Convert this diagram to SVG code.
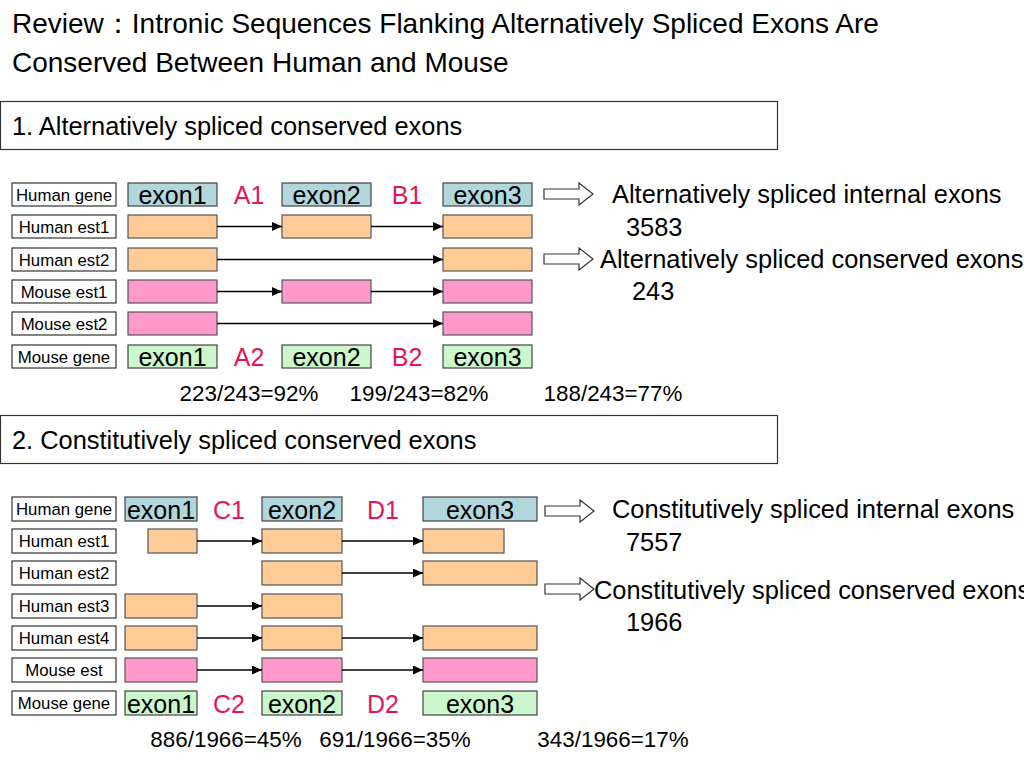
<svg xmlns="http://www.w3.org/2000/svg" width="1024" height="768" viewBox="0 0 1024 768">
<defs>
<style>
text{font-family:"Liberation Sans",Arial,sans-serif;fill:#000}
.title{font-size:28px}
.hdr{font-size:25.4px}
.lbl{font-size:16.8px}
.ex{font-size:25px}
.ab{font-size:25px;fill:#e6145a}
.pct{font-size:22.4px}
.note{font-size:25.4px}
.lb{fill:#fff;stroke:#333;stroke-width:1.2}
.hb{fill:#fff;stroke:#333;stroke-width:1.2}
.blue{fill:#b1d7dc;stroke:#444;stroke-width:1.2}
.org{fill:#ffcb96;stroke:#555;stroke-width:1.2}
.pink{fill:#ff99cc;stroke:#555;stroke-width:1.2}
.grn{fill:#ccf7cc;stroke:#444;stroke-width:1.2}
.con{stroke:#000;stroke-width:1.3;fill:none;marker-end:url(#ah)}
.hol{fill:#fff;stroke:#333;stroke-width:1.2}
</style>
<marker id="ah" markerUnits="userSpaceOnUse" markerWidth="10" markerHeight="9" refX="10" refY="4.5" orient="auto">
<path d="M0,0 L10,4.5 L0,9 z" fill="#000"/>
</marker>
</defs>
<rect width="1024" height="768" fill="#fff"/>
<g id="title">
<text class="title" x="12" y="33">Review：Intronic Sequences Flanking Alternatively Spliced Exons Are</text>
<text class="title" x="12" y="72">Conserved Between Human and Mouse</text>
</g>
<g id="header1">
<rect class="hb" x="0.5" y="101.5" width="777" height="48"/>
<text class="hdr" x="12" y="135">1. Alternatively spliced conserved exons</text>
</g>
<g id="header2">
<rect class="hb" x="0.5" y="415.5" width="777" height="48"/>
<text class="hdr" x="12" y="449">2. Constitutively spliced conserved exons</text>
</g>
<g id="s1-labels">
<rect class="lb" x="12" y="183" width="104" height="23"/><text class="lbl" x="64" y="200.5" text-anchor="middle">Human gene</text>
<rect class="lb" x="12" y="215" width="104" height="23"/><text class="lbl" x="64" y="232.5" text-anchor="middle">Human est1</text>
<rect class="lb" x="12" y="248" width="104" height="23"/><text class="lbl" x="64" y="265.5" text-anchor="middle">Human est2</text>
<rect class="lb" x="12" y="280" width="104" height="23"/><text class="lbl" x="64" y="297.5" text-anchor="middle">Mouse est1</text>
<rect class="lb" x="12" y="312" width="104" height="23"/><text class="lbl" x="64" y="329.5" text-anchor="middle">Mouse est2</text>
<rect class="lb" x="12" y="345" width="104" height="23"/><text class="lbl" x="64" y="362.5" text-anchor="middle">Mouse gene</text>
</g>
<g id="s1-human-gene">
<rect class="blue" x="128" y="183" width="89" height="23"/><text class="ex" x="172.5" y="203.5" text-anchor="middle">exon1</text>
<text class="ab" x="249" y="203.5" text-anchor="middle">A1</text>
<rect class="blue" x="282" y="183" width="89" height="23"/><text class="ex" x="326.5" y="203.5" text-anchor="middle">exon2</text>
<text class="ab" x="407" y="203.5" text-anchor="middle">B1</text>
<rect class="blue" x="443" y="183" width="89" height="23"/><text class="ex" x="487.5" y="203.5" text-anchor="middle">exon3</text>
</g>
<g id="s1-human-est1">
<rect class="org" x="128" y="215" width="89" height="23"/>
<rect class="org" x="282" y="215" width="89" height="23"/>
<rect class="org" x="443" y="215" width="89" height="23"/>
</g>
<g id="s1-human-est2">
<rect class="org" x="128" y="248" width="89" height="23"/>
<rect class="org" x="443" y="248" width="89" height="23"/>
</g>
<g id="s1-mouse-est1">
<rect class="pink" x="128" y="280" width="89" height="23"/>
<rect class="pink" x="282" y="280" width="89" height="23"/>
<rect class="pink" x="443" y="280" width="89" height="23"/>
</g>
<g id="s1-mouse-est2">
<rect class="pink" x="128" y="312" width="89" height="23"/>
<rect class="pink" x="443" y="312" width="89" height="23"/>
</g>
<g id="s1-mouse-gene">
<rect class="grn" x="128" y="345" width="89" height="23"/><text class="ex" x="172.5" y="365.5" text-anchor="middle">exon1</text>
<text class="ab" x="249" y="365.5" text-anchor="middle">A2</text>
<rect class="grn" x="282" y="345" width="89" height="23"/><text class="ex" x="326.5" y="365.5" text-anchor="middle">exon2</text>
<text class="ab" x="407" y="365.5" text-anchor="middle">B2</text>
<rect class="grn" x="443" y="345" width="89" height="23"/><text class="ex" x="487.5" y="365.5" text-anchor="middle">exon3</text>
</g>
<g id="s1-pct">
<text class="pct" x="249" y="401" text-anchor="middle">223/243=92%</text>
<text class="pct" x="419" y="401" text-anchor="middle">199/243=82%</text>
<text class="pct" x="613" y="401" text-anchor="middle">188/243=77%</text>
</g>
<g id="s1-notes">
<path class="hol" d="M544,189 H579 V183 L593,194 L579,205 V199 H544 Z"/>
<text class="note" x="612" y="203">Alternatively spliced internal exons</text>
<text class="note" x="626" y="236">3583</text>
<path class="hol" d="M544,254 H579 V248 L593,259 L579,270 V264 H544 Z"/>
<text class="note" x="600" y="268">Alternatively spliced conserved exons</text>
<text class="note" x="632" y="300">243</text>
</g>
<g id="s2-labels">
<rect class="lb" x="12" y="497" width="104" height="24"/><text class="lbl" x="64" y="515" text-anchor="middle">Human gene</text>
<rect class="lb" x="12" y="529" width="104" height="24"/><text class="lbl" x="64" y="547" text-anchor="middle">Human est1</text>
<rect class="lb" x="12" y="561" width="104" height="24"/><text class="lbl" x="64" y="579" text-anchor="middle">Human est2</text>
<rect class="lb" x="12" y="594" width="104" height="24"/><text class="lbl" x="64" y="612" text-anchor="middle">Human est3</text>
<rect class="lb" x="12" y="626" width="104" height="24"/><text class="lbl" x="64" y="644" text-anchor="middle">Human est4</text>
<rect class="lb" x="12" y="658" width="104" height="24"/><text class="lbl" x="64" y="676" text-anchor="middle">Mouse est</text>
<rect class="lb" x="12" y="691" width="104" height="24"/><text class="lbl" x="64" y="709" text-anchor="middle">Mouse gene</text>
</g>
<g id="s2-human-gene">
<rect class="blue" x="125" y="497" width="72" height="24"/><text class="ex" x="161" y="518.5" text-anchor="middle">exon1</text>
<text class="ab" x="229" y="518.5" text-anchor="middle">C1</text>
<rect class="blue" x="262" y="497" width="80" height="24"/><text class="ex" x="302" y="518.5" text-anchor="middle">exon2</text>
<text class="ab" x="383" y="518.5" text-anchor="middle">D1</text>
<rect class="blue" x="423" y="497" width="114" height="24"/><text class="ex" x="480" y="518.5" text-anchor="middle">exon3</text>
</g>
<g id="s2-human-est1">
<rect class="org" x="148" y="529" width="49" height="24"/>
<rect class="org" x="262" y="529" width="80" height="24"/>
<rect class="org" x="423" y="529" width="81" height="24"/>
</g>
<g id="s2-human-est2">
<rect class="org" x="262" y="561" width="80" height="24"/>
<rect class="org" x="423" y="561" width="114" height="24"/>
</g>
<g id="s2-human-est3">
<rect class="org" x="125" y="594" width="72" height="24"/>
<rect class="org" x="262" y="594" width="80" height="24"/>
</g>
<g id="s2-human-est4">
<rect class="org" x="125" y="626" width="72" height="24"/>
<rect class="org" x="262" y="626" width="80" height="24"/>
<rect class="org" x="423" y="626" width="114" height="24"/>
</g>
<g id="s2-mouse-est">
<rect class="pink" x="125" y="658" width="72" height="24"/>
<rect class="pink" x="262" y="658" width="80" height="24"/>
<rect class="pink" x="423" y="658" width="114" height="24"/>
</g>
<g id="s2-mouse-gene">
<rect class="grn" x="125" y="691" width="72" height="24"/><text class="ex" x="161" y="712.5" text-anchor="middle">exon1</text>
<text class="ab" x="229" y="712.5" text-anchor="middle">C2</text>
<rect class="grn" x="262" y="691" width="80" height="24"/><text class="ex" x="302" y="712.5" text-anchor="middle">exon2</text>
<text class="ab" x="383" y="712.5" text-anchor="middle">D2</text>
<rect class="grn" x="423" y="691" width="114" height="24"/><text class="ex" x="480" y="712.5" text-anchor="middle">exon3</text>
</g>
<g id="s2-pct">
<text class="pct" x="226" y="747" text-anchor="middle">886/1966=45%</text>
<text class="pct" x="395" y="747" text-anchor="middle">691/1966=35%</text>
<text class="pct" x="613" y="747" text-anchor="middle">343/1966=17%</text>
</g>
<g id="s2-notes">
<path class="hol" d="M545,506 H580 V500 L594,511 L580,522 V516 H545 Z"/>
<text class="note" x="612" y="518">Constitutively spliced internal exons</text>
<text class="note" x="626" y="551">7557</text>
<path class="hol" d="M545,584 H580 V578 L594,589 L580,600 V594 H545 Z"/>
<text class="note" x="594" y="599">Constitutively spliced conserved exons</text>
<text class="note" x="626" y="631">1966</text>
</g>
<g id="connectors">
<line class="con" x1="217" y1="226.5" x2="282" y2="226.5"/>
<line class="con" x1="371" y1="226.5" x2="443" y2="226.5"/>
<line class="con" x1="217" y1="259.5" x2="443" y2="259.5"/>
<line class="con" x1="217" y1="291.5" x2="282" y2="291.5"/>
<line class="con" x1="371" y1="291.5" x2="443" y2="291.5"/>
<line class="con" x1="217" y1="323.5" x2="443" y2="323.5"/>
<line class="con" x1="197" y1="541" x2="262" y2="541"/>
<line class="con" x1="342" y1="541" x2="423" y2="541"/>
<line class="con" x1="342" y1="573" x2="423" y2="573"/>
<line class="con" x1="197" y1="606" x2="262" y2="606"/>
<line class="con" x1="197" y1="638" x2="262" y2="638"/>
<line class="con" x1="342" y1="638" x2="423" y2="638"/>
<line class="con" x1="197" y1="670" x2="262" y2="670"/>
<line class="con" x1="342" y1="670" x2="423" y2="670"/>
</g>
</svg>
